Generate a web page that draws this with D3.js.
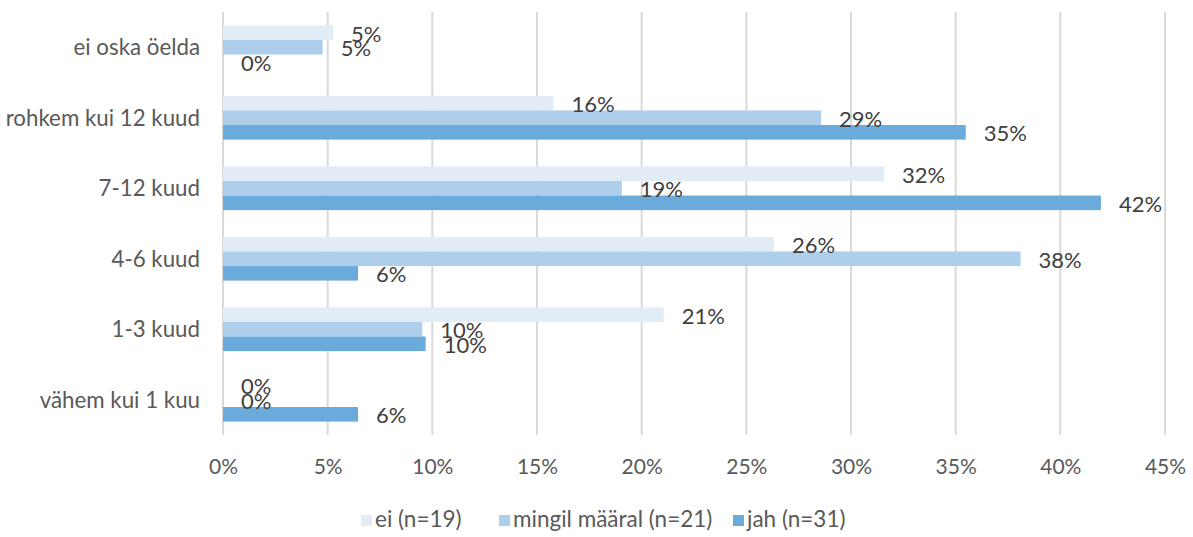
<!DOCTYPE html>
<html><head><meta charset="utf-8">
<script src="https://cdn.jsdelivr.net/npm/d3@7"></script>
<style>
html,body{margin:0;padding:0;background:#fff;}
svg{display:block;font-family:Lato,"Open Sans",sans-serif;}
</style></head>
<body><svg id="c" width="1193" height="537"></svg>
<script>
const categories = ["ei oska öelda","rohkem kui 12 kuud","7-12 kuud","4-6 kuud","1-3 kuud","vähem kui 1 kuu"];
const seriesNames = ["ei (n=19)","mingil määral (n=21)","jah (n=31)"];
const eiValues = [5.26, 15.79, 31.58, 26.32, 21.05, 0];
const mingilValues = [4.76, 28.57, 19.05, 38.10, 9.52, 0];
const jahValues = [0, 35.48, 41.94, 6.45, 9.68, 6.45];
const tickValues = [0,5,10,15,20,25,30,35,40,45];
const colors = ["#e2ecf7","#aecfeb","#6aabdb"];

const seriesValues = [eiValues, mingilValues, jahValues];
const svg = d3.select("#c");
const x = d3.scaleLinear().domain([0,45]).range([223,1165]);
const y = d3.scaleBand().domain(categories).range([12,435]).paddingInner(0.38).paddingOuter(0.19);
const ys = d3.scaleBand().domain(seriesNames).range([0,y.bandwidth()]);

// gridlines
svg.append("g").selectAll("line").data(tickValues).join("line")
  .attr("x1",d=>x(d)).attr("x2",d=>x(d)).attr("y1",12).attr("y2",435)
  .attr("stroke","#d9d9d9").attr("stroke-width",2);

// x tick labels
const xAxis = d3.axisBottom(x).tickValues(tickValues).tickFormat(d=>d+"%").tickSize(0).tickPadding(0);
const gx = svg.append("g").attr("transform","translate(0,459)").call(xAxis);
gx.select(".domain").remove();
gx.selectAll("text").attr("font-size",21).attr("fill","#595959").attr("font-family","Lato,sans-serif");

// y labels
const yAxis = d3.axisLeft(y).tickSize(0).tickPadding(0);
const gy = svg.append("g").attr("transform","translate(200,1)").call(yAxis);
gy.select(".domain").remove();
gy.selectAll("text").attr("font-size",22.3).attr("fill","#595959").attr("font-family","Lato,sans-serif");

// bars
const data = [];
categories.forEach((c,i)=>seriesNames.forEach((s,j)=>data.push({c,s,j,v:seriesValues[j][i]})));
svg.append("g").selectAll("rect").data(data).join("rect")
  .attr("x",x(0)).attr("y",d=>y(d.c)+ys(d.s))
  .attr("width",d=>x(d.v)-x(0)).attr("height",ys.bandwidth())
  .attr("fill",d=>colors[d.j]);

// data labels
svg.append("g").selectAll("text").data(data).join("text")
  .attr("x",d=>x(d.v)+18).attr("y",d=>y(d.c)+ys(d.s)+ys.bandwidth()/2+3.5)
  .attr("dominant-baseline","middle")
  .attr("font-size",22).attr("fill","#404040")
  .text(d=>Math.round(d.v)+"%");

// legend
const legX = [361, 499, 733];
const lg = svg.append("g").selectAll("g").data(seriesNames).join("g")
  .attr("transform",(d,i)=>`translate(${legX[i]},515)`);
lg.append("rect").attr("width",11).attr("height",11).attr("fill",(d,i)=>colors[i]);
lg.append("text").attr("x",14).attr("y",6.5).attr("dominant-baseline","middle")
  .attr("font-size",22.5).attr("fill","#595959").text(d=>d);
</script></body></html>
